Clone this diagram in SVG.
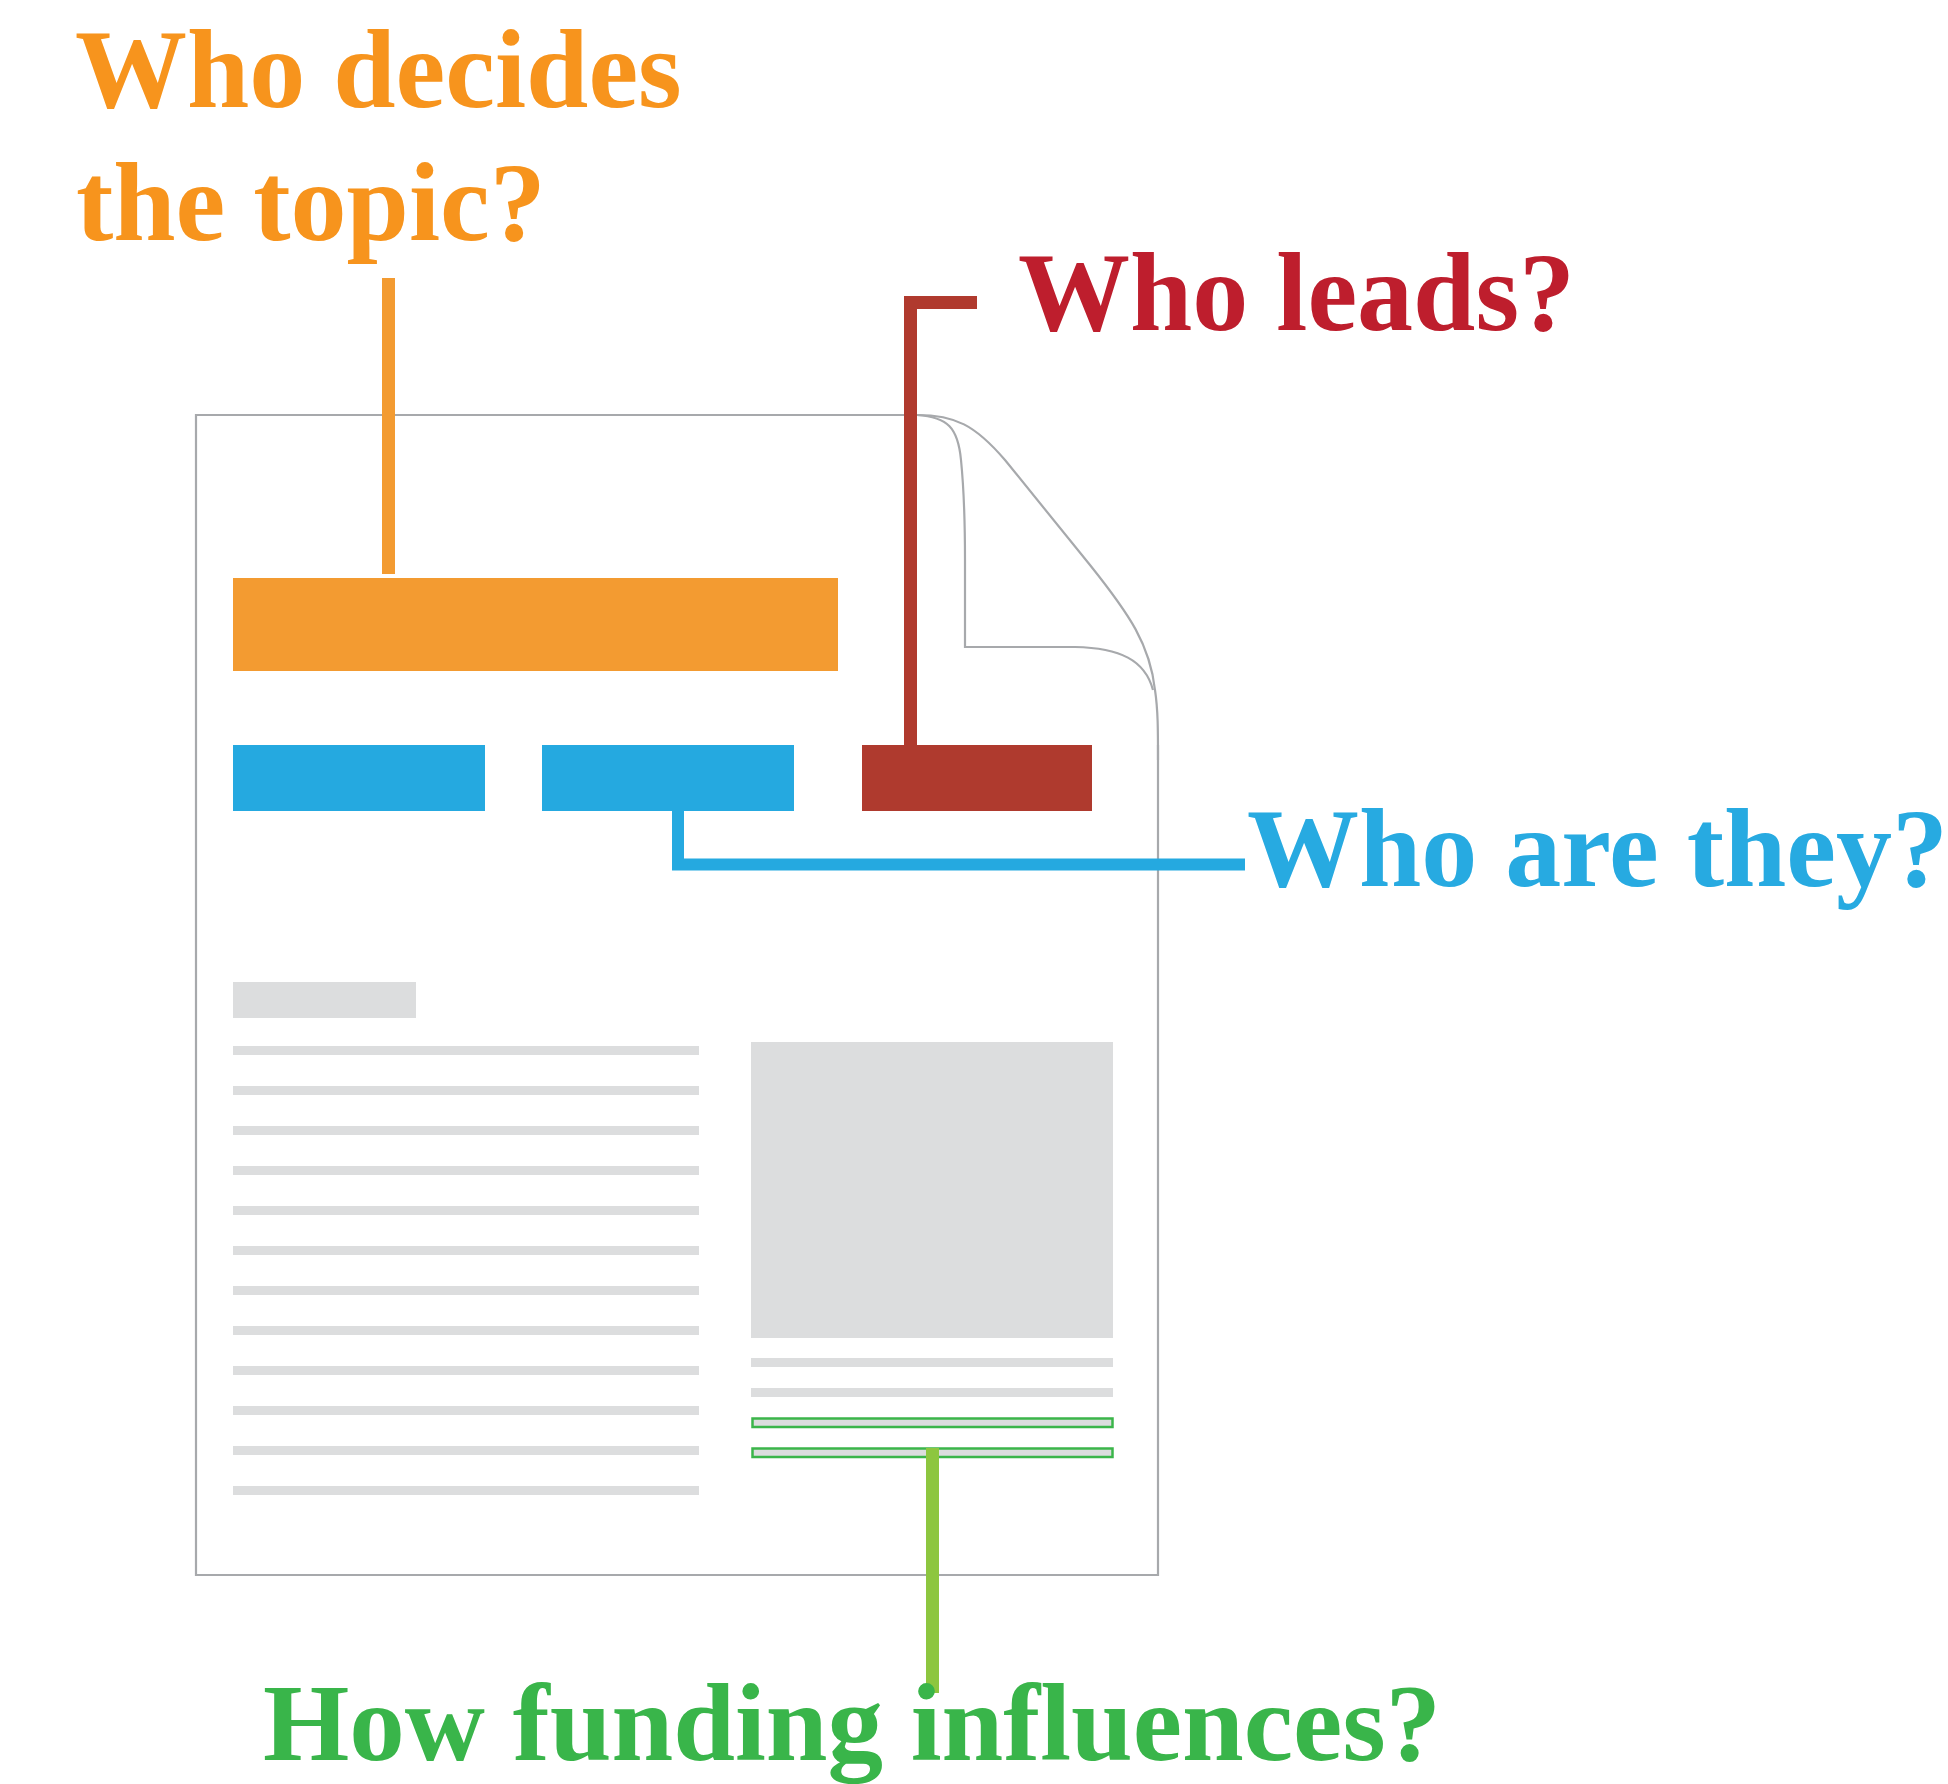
<svg xmlns="http://www.w3.org/2000/svg" width="1948" height="1784" viewBox="0 0 1948 1784">
  <style>
    .q { font-family: "Liberation Serif", "Times New Roman", serif; font-weight: bold; font-size: 112px; }
    .page { fill: none; stroke: #A7A9AC; stroke-width: 2.2; }
    .gray { fill: #DCDDDE; }
    .hl { fill: #DCDDDE; stroke: #3BB54A; stroke-width: 2.5; }
  </style>
  <rect width="1948" height="1784" fill="#FFFFFF"/>

  <g id="page">
    <path class="page" d="M 917 415 H 196 V 1575 H 1158 V 745"/>
    <path class="page" d="M 905 415 H 917 C 955 415 975 425 1005 460 L 1090 565 C 1130 615 1150 645 1155 690 C 1158 710 1158 730 1158 760"/>
    <path class="page" d="M 917 415 C 948 417 958 428 961 460 C 964 490 965 530 965 560 V 647 H 1075 C 1120 648 1145 660 1153 690"/>
  </g>

  <g id="title-bar"><rect x="233" y="578" width="605" height="93" fill="#F39B31"/></g>
  <g id="author-1"><rect x="233" y="745" width="252" height="66" fill="#25A9E0"/></g>
  <g id="author-2"><rect x="542" y="745" width="252" height="66" fill="#25A9E0"/></g>
  <g id="lead"><rect x="862" y="745" width="230" height="66" fill="#AF3A2E"/></g>

  <g id="body-text">
    <rect class="gray" x="233" y="982" width="183" height="36"/>
    <rect class="gray" x="233" y="1046" width="466" height="9"/>
    <rect class="gray" x="233" y="1086" width="466" height="9"/>
    <rect class="gray" x="233" y="1126" width="466" height="9"/>
    <rect class="gray" x="233" y="1166" width="466" height="9"/>
    <rect class="gray" x="233" y="1206" width="466" height="9"/>
    <rect class="gray" x="233" y="1246" width="466" height="9"/>
    <rect class="gray" x="233" y="1286" width="466" height="9"/>
    <rect class="gray" x="233" y="1326" width="466" height="9"/>
    <rect class="gray" x="233" y="1366" width="466" height="9"/>
    <rect class="gray" x="233" y="1406" width="466" height="9"/>
    <rect class="gray" x="233" y="1446" width="466" height="9"/>
    <rect class="gray" x="233" y="1486" width="466" height="9"/>
  </g>

  <g id="figure">
    <rect class="gray" x="751" y="1042" width="362" height="296"/>
    <rect class="gray" x="751" y="1358" width="362" height="9"/>
    <rect class="gray" x="751" y="1388" width="362" height="9"/>
  </g>

  <g id="funding">
    <rect class="hl" x="752.5" y="1418.5" width="360" height="8.5"/>
    <rect class="hl" x="752.5" y="1448.5" width="360" height="8.5"/>
  </g>

  <g id="connectors">
    <rect x="382" y="278" width="13" height="296" fill="#F39B31"/>
    <path d="M 977 302.5 H 910.5 V 745" fill="none" stroke="#B03A2E" stroke-width="13"/>
    <path d="M 678 811 V 864.5 H 1245" fill="none" stroke="#25A9E0" stroke-width="12"/>
    <rect x="926" y="1448" width="13" height="245" fill="#8DC63F"/>
  </g>

  <g id="label-topic">
    <text class="q" x="75" y="107" fill="#F7941D">Who decides</text>
    <text class="q" x="76" y="240" fill="#F7941D">the topic?</text>
  </g>
  <g id="label-leads"><text class="q" x="1018" y="330" fill="#BE1E2D">Who leads?</text></g>
  <g id="label-who"><text class="q" x="1247" y="886" fill="#27AAE1">Who are they?</text></g>
  <g id="label-funding"><text class="q" x="263" y="1760" fill="#39B54A" style="font-size:111px">How funding influences?</text></g>
</svg>
